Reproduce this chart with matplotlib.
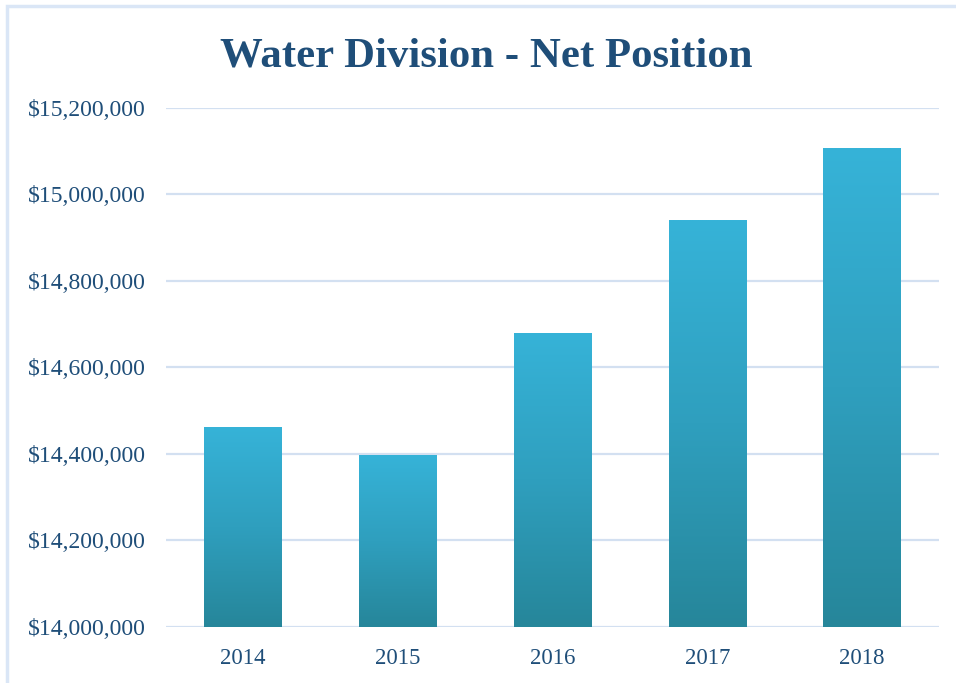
import matplotlib.pyplot as plt
import matplotlib.patches as mpatches
import matplotlib.ticker as mticker
import numpy as np
from matplotlib.colors import LinearSegmentedColormap

years = ["2014", "2015", "2016", "2017", "2018"]
net_position = [14462000, 14397000, 14680000, 14941000, 15107000]
y_ticks = [14000000, 14200000, 14400000, 14600000, 14800000, 15000000, 15200000]

text_color = "#1F4E79"
grid_color = "#D3E0F1"
grad = LinearSegmentedColormap.from_list("bar_grad", ["#26869A", "#2F9FBE", "#36B3D8"])

plt.rcParams['font.family'] = ['Liberation Serif', 'DejaVu Serif']

fig = plt.figure(figsize=(9.56, 6.83), dpi=100)
ax = fig.add_axes([0.1732, 0.082, 0.8094, 0.7599])

x = np.arange(len(years))
bars = ax.bar(x, net_position, width=0.5, color="none", zorder=3)

# vertical gradient inside each bar
ymin, ymax = 14000000, 15200000
gradient = np.linspace(0, 1, 256).reshape(-1, 1)
for b in bars:
    x0 = b.get_x()
    w = b.get_width()
    top = b.get_height()
    im = ax.imshow(gradient, cmap=grad, aspect="auto", origin="lower",
                   extent=[x0, x0 + w, ymin, top], zorder=3)
    clip = mpatches.Rectangle((x0, ymin), w, top - ymin, transform=ax.transData)
    im.set_clip_path(clip)

ax.set_xlim(-0.5, len(years) - 0.5)
ax.set_ylim(ymin, ymax)
ax.set_xticks(x)
ax.set_xticklabels(years)
ax.set_yticks(y_ticks)
ax.yaxis.set_major_formatter(mticker.FuncFormatter(lambda v, p: f"${v:,.0f}"))

ax.grid(axis="y", color=grid_color, linewidth=1.6, zorder=0)
ax.set_axisbelow(True)
for s in ax.spines.values():
    s.set_visible(False)
ax.tick_params(length=0, colors=text_color)
ax.tick_params(axis="y", pad=14.5, labelsize=17)
ax.tick_params(axis="x", pad=15, labelsize=16.5)

fig.text(0.509, 0.923 - 4 / 683, "Water Division - Net Position", ha="center", va="center",
         fontsize=30.8, fontweight="bold", color=text_color)

# light outer frame (top and left visible)
frame = mpatches.Rectangle((7 / 956, -0.05), 1.1, 1 - 6 / 683 + 0.05,
                           transform=fig.transFigure, fill=False,
                           edgecolor="#DAE6F6", linewidth=2.5)
fig.patches.append(frame)

fig.savefig("out.png", dpi=100)
